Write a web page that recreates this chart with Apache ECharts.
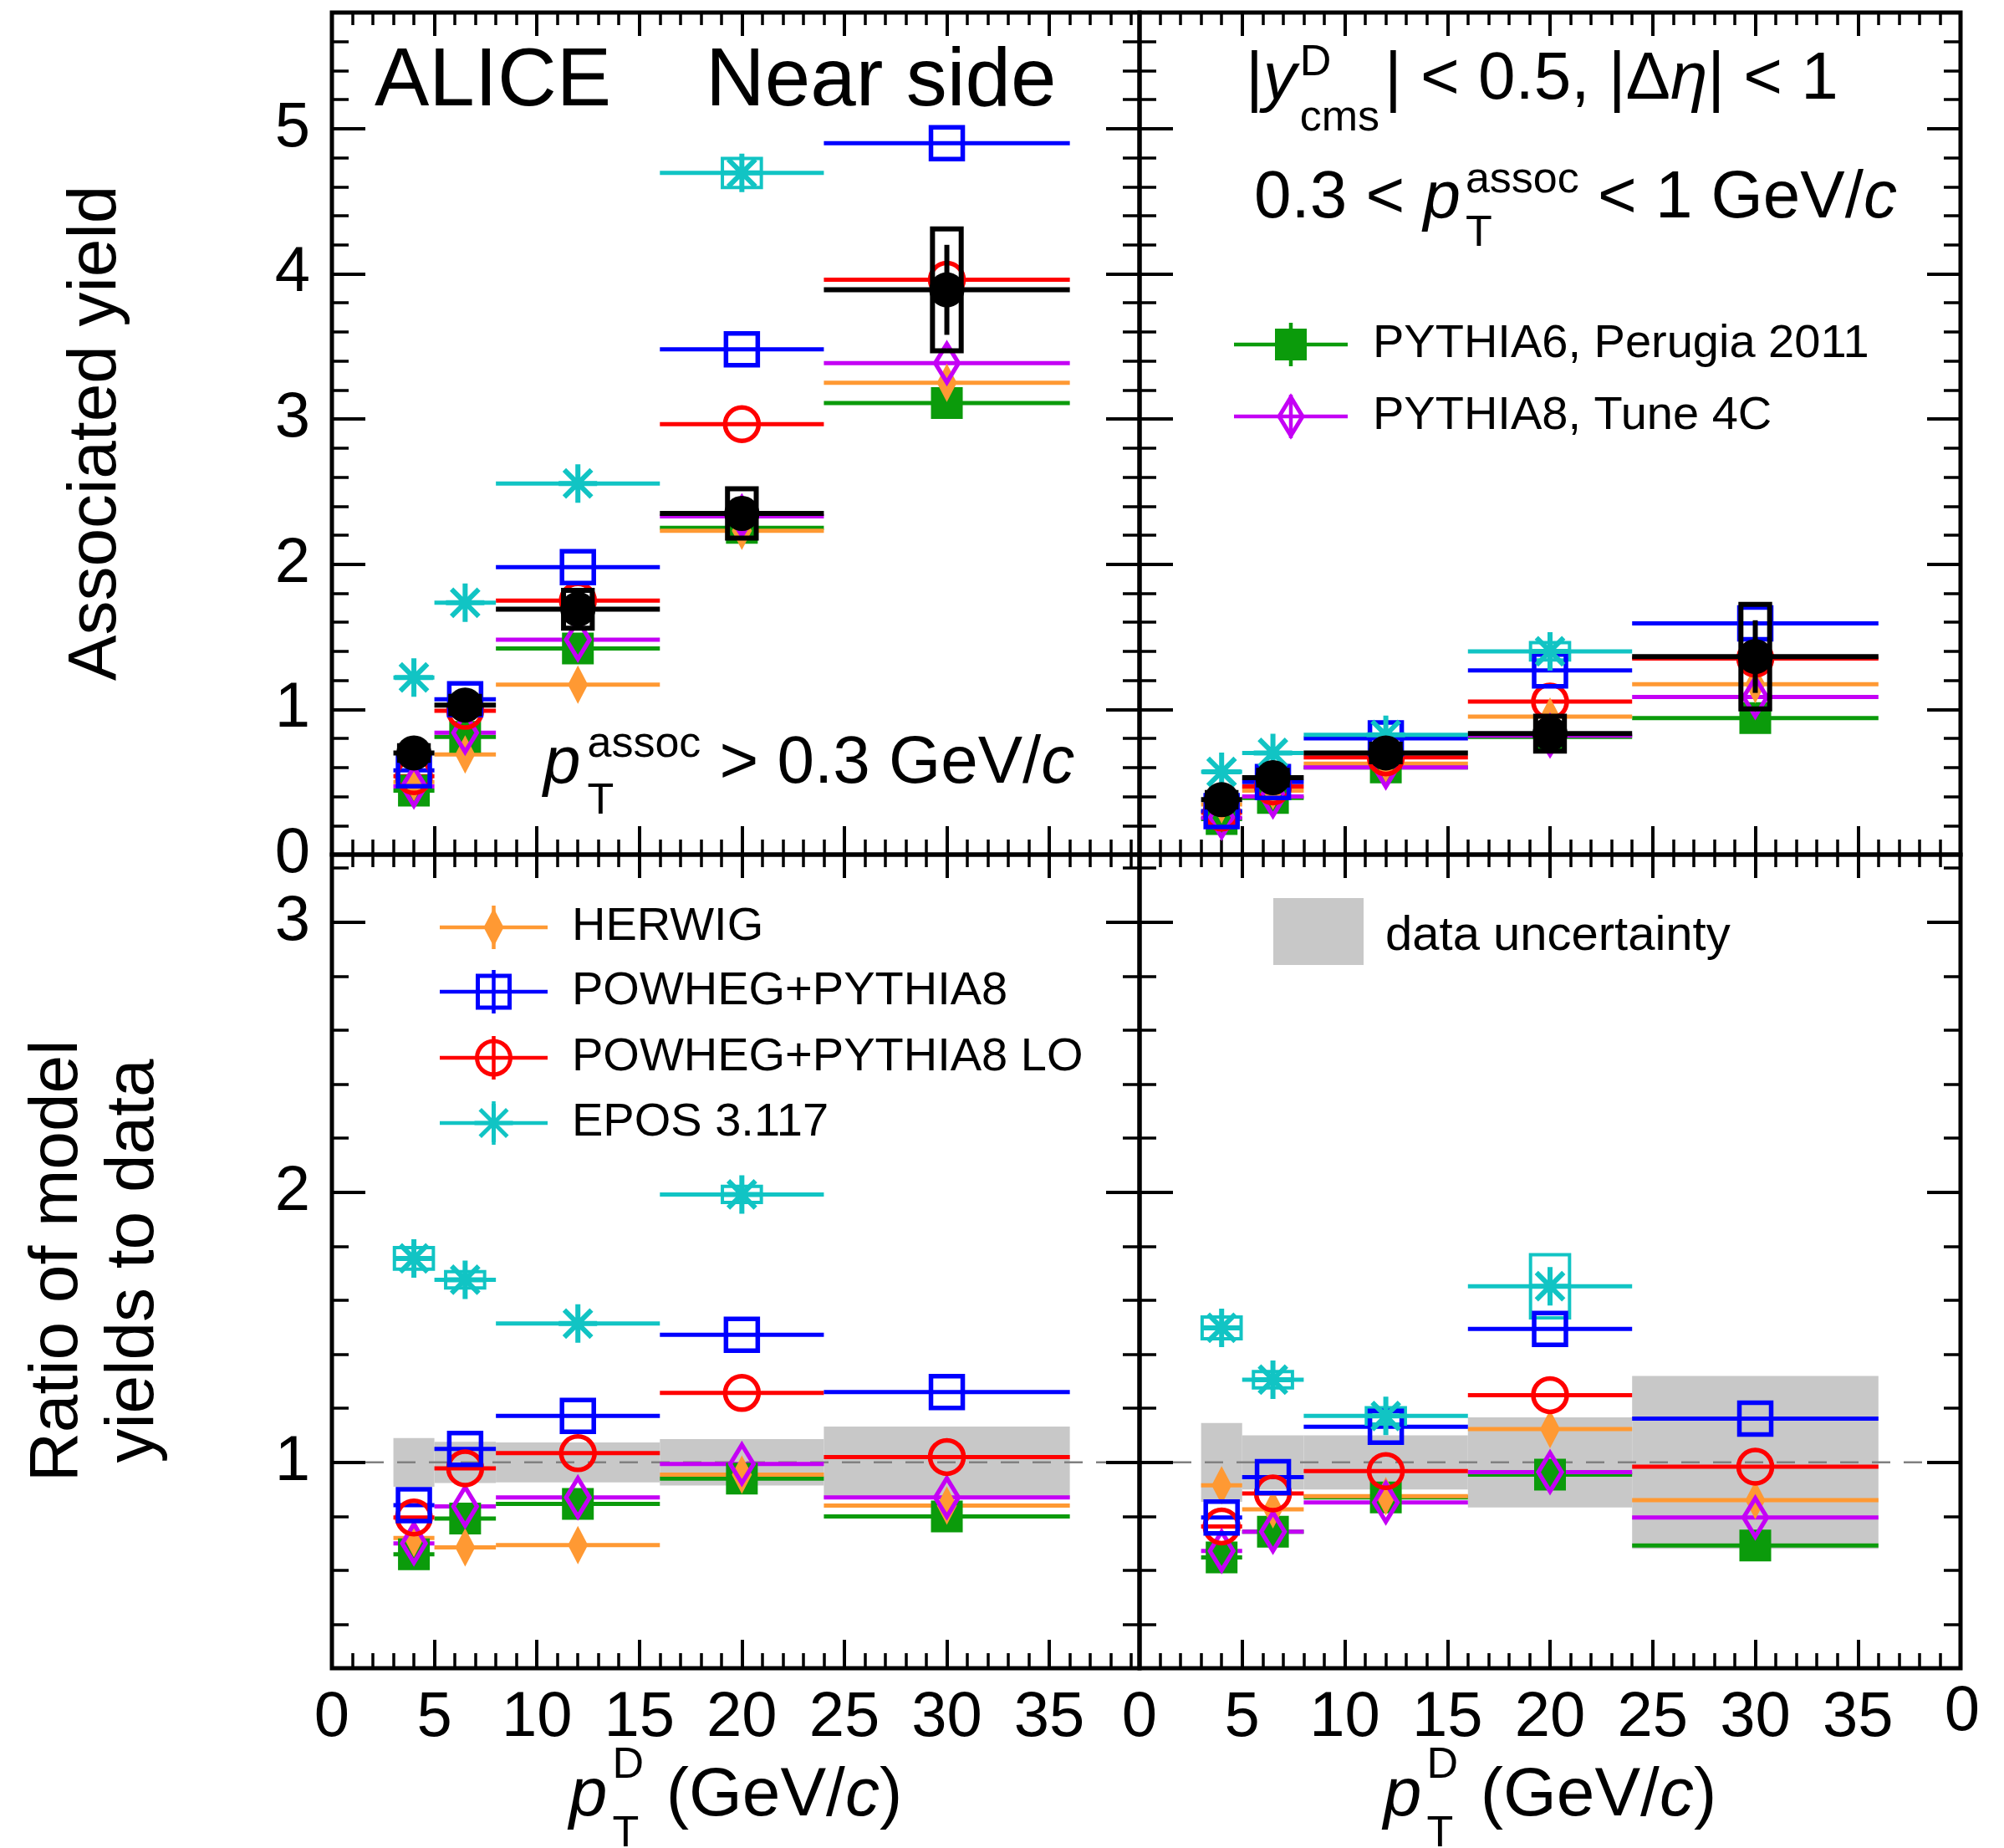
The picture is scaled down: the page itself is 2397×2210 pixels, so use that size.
<!DOCTYPE html>
<html>
<head>
<meta charset="utf-8">
<script src="https://cdn.jsdelivr.net/npm/echarts@6/dist/echarts.min.js"></script>
<style>
  html, body { margin: 0; padding: 0; background: #fff; }
  #chart { width: 2397px; height: 2210px; }
</style>
</head>
<body>
<div id="chart"></div>
<script>
// ---- pT(D) binning (GeV/c) ----
const binCenters = [4, 6.5, 12, 20, 30];
const binLow = [3, 5, 8, 16, 24];
const binHigh = [5, 8, 16, 24, 36];

// ---- tick labels ----
const xTickLabels = [0, 5, 10, 15, 20, 25, 30, 35];
const yieldTickLabels = [0, 1, 2, 3, 4, 5];
const ratioTickLabels = [1, 2, 3];

// ---- near-side yield, pT(assoc) > 0.3 GeV/c ----
const dataYield03 = [0.70, 1.03, 1.69, 2.35, 3.89];
const dataStat03 = [0.03, 0.04, 0.06, 0.10, 0.31];
const dataSyst03 = [0.05, 0.06, 0.13, 0.17, 0.42];
const herwig03 = [0.50, 0.69, 1.17, 2.23, 3.25];
const powheg03 = [0.58, 1.07, 1.98, 3.48, 4.90];
const powhegLO03 = [0.54, 0.99, 1.75, 2.965, 3.96];
const epos03 = [1.22, 1.735, 2.556, 4.695, null];
const eposBox03 = [null, null, null, 0.10, null];
const pythia6_03 = [0.44, 0.81, 1.42, 2.25, 3.11];
const pythia8_03 = [0.47, 0.84, 1.48, 2.33, 3.385];

// ---- near-side yield, 0.3 < pT(assoc) < 1 GeV/c ----
const dataYield1 = [0.378, 0.53, 0.70, 0.833, 1.364];
const dataStat1 = [0.02, 0.02, 0.03, 0.05, 0.25];
const dataSyst1 = [0.05, 0.05, 0.06, 0.12, 0.36];
const herwig1 = [0.345, 0.44, 0.627, 0.951, 1.173];
const powheg1 = [0.30, 0.50, 0.80, 1.268, 1.593];
const powhegLO1 = [0.29, 0.47, 0.67, 1.054, 1.35];
const epos1 = [0.57, 0.70, 0.825, 1.40, null];
const eposBox1 = [null, null, null, 0.06, null];
const pythia6_1 = [0.245, 0.39, 0.60, 0.81, 0.94];
const pythia8_1 = [0.254, 0.40, 0.60, 0.82, 1.085];

// ---- model / data ratios, pT(assoc) > 0.3 GeV/c ----
const ratioRef = 1;
const dataUnc03 = [0.09, 0.076, 0.074, 0.086, 0.133];
const herwigR03 = [0.72, 0.685, 0.694, 0.955, 0.84];
const powhegR03 = [0.842, 1.05, 1.172, 1.472, 1.26];
const powhegLOR03 = [0.796, 0.978, 1.034, 1.257, 1.02];
const eposR03 = [1.755, 1.676, 1.514, 1.992, null];
const eposBoxR03 = [0.04, 0.03, null, 0.03, null];
const pythia6R03 = [0.66, 0.792, 0.846, 0.94, 0.80];
const pythia8R03 = [0.70, 0.837, 0.87, 0.994, 0.87];

// ---- model / data ratios, 0.3 < pT(assoc) < 1 GeV/c ----
const dataUnc1 = [0.146, 0.10, 0.10, 0.167, 0.32];
const herwigR1 = [0.915, 0.826, 0.875, 1.123, 0.86];
const powhegR1 = [0.796, 0.945, 1.132, 1.494, 1.162];
const powhegLOR1 = [0.763, 0.885, 0.968, 1.249, 0.984];
const eposR1 = [1.498, 1.306, 1.172, 1.652, null];
const eposBoxR1 = [0.04, 0.03, 0.03, 0.117, null];
const pythia6R1 = [0.648, 0.743, 0.87, 0.955, 0.692];
const pythia8R1 = [0.672, 0.743, 0.852, 0.964, 0.796];

// ---------------------------------------------------------------
const FONT = '"Liberation Sans", Arial, Helvetica, sans-serif';
const ASTERISK = 'path://M-10,0L10,0M0,-10L0,10M-7.07,-7.07L7.07,7.07M-7.07,7.07L7.07,-7.07';

const models = {
  herwig:   { name: 'HERWIG',                color: '#ff9933', kind: 'diamond',  fill: true,  size: [24, 46] },
  powheg:   { name: 'POWHEG+PYTHIA8',        color: '#0000ff', kind: 'square',   fill: false, size: 38 },
  powhegLO: { name: 'POWHEG+PYTHIA8 LO',     color: '#ff0000', kind: 'circle',   fill: false, size: 40 },
  epos:     { name: 'EPOS 3.117',            color: '#11c4c4', kind: 'asterisk', fill: false, size: 46 },
  pythia6:  { name: 'PYTHIA6, Perugia 2011', color: '#0b9b0b', kind: 'square',   fill: true,  size: 38 },
  pythia8:  { name: 'PYTHIA8, Tune 4C',      color: '#c400f5', kind: 'diamond',  fill: false, size: [28, 46] }
};

// minor tick positions
const xMinorTicks = [];
for (let k = 1; k < 40; k++) if (k % 5) xMinorTicks.push(k);
const yieldMinorTicks = [];
for (let k = 1; k < 29; k++) if (k % 5) yieldMinorTicks.push(+(k * 0.2).toFixed(1));
const ratioMinorTicks = [];
for (let k = 2; k < 17; k++) if (k % 5) ratioMinorTicks.push(+(k * 0.2).toFixed(1));

const panels = [
  { grid: { left: 397, top: 15, width: 966, height: 1007 }, xMax: 39.4, yMin: 0, yMax: 5.8,
    yMajor: yieldTickLabels, yMinor: yieldMinorTicks, xLab: false, yLab: true },
  { grid: { left: 1363, top: 15, width: 982, height: 1007 }, xMax: 40.0, yMin: 0, yMax: 5.8,
    yMajor: yieldTickLabels, yMinor: yieldMinorTicks, xLab: false, yLab: false },
  { grid: { left: 397, top: 1022, width: 966, height: 973 }, xMax: 39.4, yMin: 0.238, yMax: 3.25,
    yMajor: ratioTickLabels, yMinor: ratioMinorTicks, xLab: true, yLab: true },
  { grid: { left: 1363, top: 1022, width: 982, height: 973 }, xMax: 40.0, yMin: 0.238, yMax: 3.25,
    yMajor: ratioTickLabels, yMinor: ratioMinorTicks, xLab: true, yLab: false }
];

function axisPair(kind, g, min, max, position, majors, minors, majLen, minLen, showLabels) {
  const common = { type: 'value', gridIndex: g, min, max, position,
    axisLine: { show: false, onZero: false }, splitLine: { show: false }, silent: true };
  const major = Object.assign({}, common, {
    axisTick: { show: true, inside: true, length: majLen, customValues: majors, lineStyle: { color: '#000', width: 4 } },
    axisLabel: { show: showLabels, customValues: majors, fontFamily: FONT, fontSize: 76, color: '#000',
      margin: kind === 'x' ? 22 : 26 }
  });
  const minor = Object.assign({}, common, {
    axisTick: { show: true, inside: true, length: minLen, customValues: minors, lineStyle: { color: '#000', width: 3.5 } },
    axisLabel: { show: false }
  });
  return [major, minor];
}

const grids = [], xAxes = [], yAxes = [];
panels.forEach((p, g) => {
  grids.push(Object.assign({ show: true, borderColor: '#000', borderWidth: 5, backgroundColor: 'transparent' }, p.grid));
  xAxes.push(...axisPair('x', g, 0, p.xMax, 'bottom', xTickLabels, xMinorTicks, 34, 18, p.xLab));
  xAxes.push(...axisPair('x', g, 0, p.xMax, 'top', xTickLabels, xMinorTicks, 28, 15, false));
  yAxes.push(...axisPair('y', g, p.yMin, p.yMax, 'left', p.yMajor, p.yMinor, 40, 20, p.yLab));
  yAxes.push(...axisPair('y', g, p.yMin, p.yMax, 'right', p.yMajor, p.yMinor, 40, 20, false));
});

// horizontal bin-width bars with optional vertical error bars
function barSeries(g, vals, color, width, z, errs) {
  const data = [];
  vals.forEach((v, i) => {
    if (v == null) return;
    data.push([binCenters[i], v, binLow[i], binHigh[i], errs ? errs[i] : 0]);
  });
  return {
    type: 'custom', xAxisIndex: 4 * g, yAxisIndex: 4 * g, z, silent: true, data,
    renderItem(params, api) {
      const xc = api.value(0), y = api.value(1), lo = api.value(2), hi = api.value(3), e = api.value(4);
      const a = api.coord([lo, y]), b = api.coord([hi, y]);
      const ch = [{ type: 'line', shape: { x1: a[0], y1: a[1], x2: b[0], y2: b[1] },
        style: { stroke: color, lineWidth: width } }];
      if (e > 0) {
        const c = api.coord([xc, y - e]), d = api.coord([xc, y + e]);
        ch.push({ type: 'line', shape: { x1: c[0], y1: c[1], x2: d[0], y2: d[1] },
          style: { stroke: color, lineWidth: width } });
      }
      return { type: 'group', children: ch };
    }
  };
}

// open uncertainty boxes around points
function boxSeries(g, vals, halfs, halfW, color, width, z) {
  const data = [];
  vals.forEach((v, i) => {
    if (v == null || halfs[i] == null) return;
    data.push([binCenters[i], v, halfs[i]]);
  });
  return {
    type: 'custom', xAxisIndex: 4 * g, yAxisIndex: 4 * g, z, silent: true, data,
    renderItem(params, api) {
      const xc = api.value(0), y = api.value(1), h = api.value(2);
      const p0 = api.coord([xc - halfW, y + h]), p1 = api.coord([xc + halfW, y - h]);
      return { type: 'rect', shape: { x: p0[0], y: p0[1], width: p1[0] - p0[0], height: p1[1] - p0[1] },
        style: { fill: 'none', stroke: color, lineWidth: width } };
    }
  };
}

// grey band of the data uncertainty around ratio = 1
function bandSeries(g, uncs, z) {
  const data = uncs.map((u, i) => [binLow[i], binHigh[i], ratioRef, u]);
  return {
    type: 'custom', xAxisIndex: 4 * g, yAxisIndex: 4 * g, z, silent: true, data,
    renderItem(params, api) {
      const lo = api.value(0), hi = api.value(1), c = api.value(2), u = api.value(3);
      const p0 = api.coord([lo, c + u]), p1 = api.coord([hi, c - u]);
      return { type: 'rect', shape: { x: p0[0], y: p0[1], width: p1[0] - p0[0], height: p1[1] - p0[1] },
        style: { fill: '#c8c8c8' } };
    }
  };
}

// dashed reference line at ratio = 1 over the full axis range
function refLineSeries(g, xMax, z) {
  return {
    type: 'custom', xAxisIndex: 4 * g, yAxisIndex: 4 * g, z, silent: true, data: [[0, xMax, ratioRef]],
    renderItem(params, api) {
      const a = api.coord([api.value(0), api.value(2)]), b = api.coord([api.value(1), api.value(2)]);
      return { type: 'line', shape: { x1: a[0] + 40, y1: a[1], x2: b[0] - 40, y2: b[1] },
        style: { stroke: '#808080', lineWidth: 2.5, lineDash: [22, 16] } };
    }
  };
}

function symbolOf(m) {
  if (m.kind === 'diamond') return 'diamond';
  if (m.kind === 'square') return 'rect';
  if (m.kind === 'circle') return 'circle';
  return ASTERISK;
}

function markerSeries(g, vals, m, z) {
  const data = [];
  vals.forEach((v, i) => { if (v != null) data.push([binCenters[i], v]); });
  const open = !m.fill;
  return {
    type: 'scatter', xAxisIndex: 4 * g, yAxisIndex: 4 * g, z, silent: true, data,
    symbol: symbolOf(m), symbolSize: m.size,
    itemStyle: open ? { color: 'rgba(0,0,0,0)', borderColor: m.color, borderWidth: m.kind === 'asterisk' ? 6 : 5.5, opacity: 1 }
                    : { color: m.color, opacity: 1 }
  };
}

const panelModels = [
  [[pythia6_03, models.pythia6], [herwig03, models.herwig], [pythia8_03, models.pythia8],
   [powhegLO03, models.powhegLO], [powheg03, models.powheg], [epos03, models.epos]],
  [[pythia6_1, models.pythia6], [herwig1, models.herwig], [pythia8_1, models.pythia8],
   [powhegLO1, models.powhegLO], [powheg1, models.powheg], [epos1, models.epos]],
  [[pythia6R03, models.pythia6], [herwigR03, models.herwig], [pythia8R03, models.pythia8],
   [powhegLOR03, models.powhegLO], [powhegR03, models.powheg], [eposR03, models.epos]],
  [[pythia6R1, models.pythia6], [herwigR1, models.herwig], [pythia8R1, models.pythia8],
   [powhegLOR1, models.powhegLO], [powhegR1, models.powheg], [eposR1, models.epos]]
];
const eposBoxes = [eposBox03, eposBox1, eposBoxR03, eposBoxR1];
const eposValues = [epos03, epos1, eposR03, eposR1];

const series = [];
// ratio panels: uncertainty band and reference line
series.push(bandSeries(2, dataUnc03, 1), bandSeries(3, dataUnc1, 1));
series.push(refLineSeries(2, panels[2].xMax, 2), refLineSeries(3, panels[3].xMax, 2));

panelModels.forEach((list, g) => {
  list.forEach(([vals, m], j) => {
    series.push(barSeries(g, vals, m.color, 5, 3 + j * 0.01));
  });
  series.push(boxSeries(g, eposValues[g], eposBoxes[g], 0.95, models.epos.color, 4, 3.5));
  list.forEach(([vals, m], j) => {
    series.push(markerSeries(g, vals, m, 4 + j * 0.01));
  });
});

// measured yields
[[0, dataYield03, dataStat03, dataSyst03], [1, dataYield1, dataStat1, dataSyst1]].forEach(([g, y, st, sy]) => {
  series.push(boxSeries(g, y, sy, 0.7, '#000', 6, 5));
  series.push(barSeries(g, y, '#000', 6, 6, st));
  series.push({ type: 'scatter', xAxisIndex: 4 * g, yAxisIndex: 4 * g, z: 7, silent: true,
    data: y.map((v, i) => [binCenters[i], v]), symbol: 'circle', symbolSize: 42,
    itemStyle: { color: '#000', opacity: 1 } });
});

// ---------------- text and legend graphics ----------------
const mctx = document.createElement('canvas').getContext('2d');
function fontStr(size, italic) { return (italic ? 'italic ' : '') + size + 'px ' + FONT; }
function measure(t, size, italic) { mctx.font = fontStr(size, italic); return mctx.measureText(t).width; }
function txt(x, y, t, size, italic, extra) {
  return Object.assign({ type: 'text', x, y, silent: true, z: 100,
    style: { text: t, font: fontStr(size, italic), fill: '#000',
      align: 'left', verticalAlign: 'middle', textAlign: 'left', textVerticalAlign: 'middle' } }, extra || {});
}
// lay out a run of text pieces; a piece may carry a stacked super/subscript
function runWidth(parts) {
  let w = 0;
  parts.forEach(p => {
    if (p.stack) w += Math.max(...p.stack.map(s => measure(s.t, s.size, s.italic))) + (p.gap || 0);
    else w += measure(p.t, p.size, p.italic) + (p.gap || 0);
  });
  return w;
}
function textRun(x, y, parts) {
  const els = [];
  let cx = x;
  parts.forEach(p => {
    if (p.stack) {
      let w = 0;
      p.stack.forEach(s => {
        els.push(txt(cx, y + s.dy, s.t, s.size, s.italic));
        w = Math.max(w, measure(s.t, s.size, s.italic));
      });
      cx += w + (p.gap || 0);
    } else {
      els.push(txt(cx, y + (p.dy || 0), p.t, p.size, p.italic));
      cx += measure(p.t, p.size, p.italic) + (p.gap || 0);
    }
  });
  return els;
}

const graphics = [];
// panel headers
graphics.push(txt(448, 99, 'ALICE', 98));
graphics.push(txt(844, 99, 'Near side', 98));
graphics.push(...textRun(1490, 96, [
  { t: '|', size: 80 }, { t: 'y', size: 80, italic: true, gap: 4 },
  { stack: [{ t: 'D', size: 52, dy: -20 }, { t: 'cms', size: 52, dy: 46 }], gap: 6 },
  { t: '| < 0.5, |Δ', size: 80 }, { t: 'η', size: 80, italic: true }, { t: '| < 1', size: 80 }
]));
graphics.push(...textRun(1500, 238, [
  { t: '0.3 < ', size: 80 }, { t: 'p', size: 80, italic: true, gap: 6 },
  { stack: [{ t: 'assoc', size: 52, dy: -22 }, { t: 'T', size: 52, dy: 42 }] },
  { t: ' < 1 GeV/', size: 80 }, { t: 'c', size: 80, italic: true }
]));
graphics.push(...textRun(650, 914, [
  { t: 'p', size: 80, italic: true, gap: 8 },
  { stack: [{ t: 'assoc', size: 52, dy: -23 }, { t: 'T', size: 52, dy: 45 }] },
  { t: ' > 0.3 GeV/', size: 80 }, { t: 'c', size: 80, italic: true }
]));

// axis titles
function rotTitle(x, y, t) {
  return { type: 'text', x, y, rotation: Math.PI / 2, silent: true, z: 100,
    style: { text: t, font: fontStr(82, false), fill: '#000', align: 'center', verticalAlign: 'middle',
      textAlign: 'center', textVerticalAlign: 'middle' } };
}
graphics.push(rotTitle(115, 518, 'Associated yield'));
graphics.push(rotTitle(69, 1508, 'Ratio of model'));
graphics.push(rotTitle(160, 1508, 'yields to data'));

const xTitleParts = [
  { t: 'p', size: 82, italic: true, gap: 6 },
  { stack: [{ t: 'D', size: 52, dy: -36 }, { t: 'T', size: 52, dy: 46 }], gap: 4 },
  { t: ' (GeV/', size: 82 }, { t: 'c', size: 82, italic: true }, { t: ')', size: 82 }
];
const xTitleW = runWidth(xTitleParts);
[panels[2], panels[3]].forEach(p => {
  const center = p.grid.left + p.grid.width / 2;
  graphics.push(...textRun(center - xTitleW / 2, 2148, xTitleParts));
});
// first label of the neighbouring panel, at the right edge
graphics.push({ type: 'text', x: 2347, y: 2048, silent: true, z: 100,
  style: { text: '0', font: fontStr(76, false), fill: '#000', align: 'center', verticalAlign: 'middle',
    textAlign: 'center', textVerticalAlign: 'middle' } });

// legend entries
function legendMarker(cx, cy, m) {
  const stroke = m.color, lw = 5;
  const fill = m.fill ? m.color : 'none';
  if (m.kind === 'diamond') {
    const w = m.size[0] / 2, h = m.size[1] / 2;
    return { type: 'polygon', z: 101, silent: true,
      shape: { points: [[cx, cy - h], [cx + w, cy], [cx, cy + h], [cx - w, cy]] },
      style: { fill, stroke, lineWidth: m.fill ? 0 : lw } };
  }
  if (m.kind === 'square') {
    const s = m.size / 2;
    return { type: 'rect', z: 101, silent: true, shape: { x: cx - s, y: cy - s, width: 2 * s, height: 2 * s },
      style: { fill, stroke, lineWidth: m.fill ? 0 : lw } };
  }
  if (m.kind === 'circle') {
    return { type: 'circle', z: 101, silent: true, shape: { cx, cy, r: m.size / 2 },
      style: { fill, stroke, lineWidth: lw } };
  }
  const r = m.size / 2, d = r * 0.707;
  return { type: 'group', z: 101, silent: true, children: [
    [-r, 0, r, 0], [0, -r, 0, r], [-d, -d, d, d], [-d, d, d, -d]
  ].map(s => ({ type: 'line', shape: { x1: cx + s[0], y1: cy + s[1], x2: cx + s[2], y2: cy + s[3] },
    style: { stroke, lineWidth: 5 } })) };
}
function legendRow(x1, x2, y, m, textX, size) {
  const cx = (x1 + x2) / 2;
  graphics.push({ type: 'line', z: 100, silent: true, shape: { x1, y1: y, x2, y2: y }, style: { stroke: m.color, lineWidth: 4.5 } });
  graphics.push({ type: 'line', z: 100, silent: true, shape: { x1: cx, y1: y - 26, x2: cx, y2: y + 26 }, style: { stroke: m.color, lineWidth: 4.5 } });
  graphics.push(legendMarker(cx, y, m));
  graphics.push(txt(textX, y, m.name, size));
}
legendRow(526, 655, 1109, models.herwig, 684, 56);
legendRow(526, 655, 1186, models.powheg, 684, 56);
legendRow(526, 655, 1265, models.powhegLO, 684, 56);
legendRow(526, 655, 1343, models.epos, 684, 56);
legendRow(1476, 1612, 412, models.pythia6, 1642, 56);
legendRow(1476, 1612, 498, models.pythia8, 1642, 56);

graphics.push({ type: 'rect', z: 100, silent: true, shape: { x: 1523, y: 1074, width: 108, height: 80 }, style: { fill: '#c8c8c8' } });
graphics.push(txt(1657, 1120, 'data uncertainty', 58));

const chart = echarts.init(document.getElementById('chart'), null, { renderer: 'canvas' });
chart.setOption({
  animation: false,
  backgroundColor: '#fff',
  grid: grids,
  xAxis: xAxes,
  yAxis: yAxes,
  series,
  graphic: { elements: graphics }
});
</script>
</body>
</html>
